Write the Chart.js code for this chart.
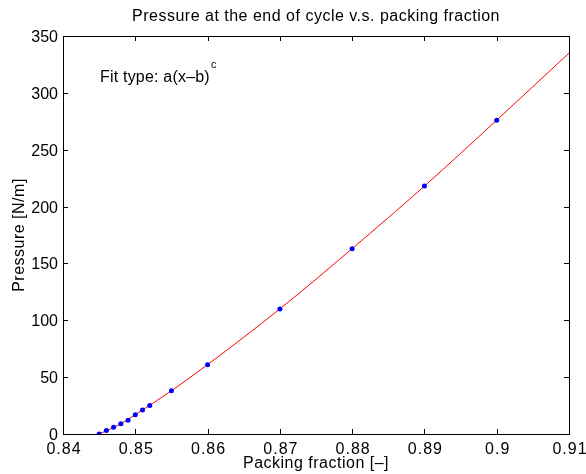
<!DOCTYPE html>
<html>
<head>
<meta charset="utf-8">
<script src="https://cdn.jsdelivr.net/npm/chart.js@4.4.1/dist/chart.umd.min.js"></script>
<style>
  html, body { margin: 0; padding: 0; background: #fff; }
  #wrap { width: 586px; height: 474px; }
</style>
</head>
<body>
<div id="wrap"><canvas id="myChart" width="586" height="474"></canvas></div>
<script>
// measured points (blue dots)
const packing = [0.845, 0.846, 0.847, 0.848, 0.849, 0.850, 0.851, 0.852, 0.855, 0.86, 0.87, 0.88, 0.89, 0.90];
const pressure = [0, 3, 6, 9, 12, 17, 21, 25, 38, 61, 110, 163, 218, 276];

// fitted curve
const fitX = [0.845, 0.848, 0.85, 0.855, 0.86, 0.87, 0.88, 0.89, 0.90, 0.91];
const fitY = [0, 9, 17, 38, 61, 110, 163, 218, 276, 335];

const xTicks = [0.84, 0.85, 0.86, 0.87, 0.88, 0.89, 0.9, 0.91];
const xTickLabels = ['0.84', '0.85', '0.86', '0.87', '0.88', '0.89', '0.9', '0.91'];
const yTicks = [0, 50, 100, 150, 200, 250, 300, 350];
const yTickLabels = ['0', '50', '100', '150', '200', '250', '300', '350'];

const FONT = '"Liberation Sans", Arial, Helvetica, sans-serif';

// box, inward ticks, tick labels and the texts, MATLAB style
const matlabFrame = {
    id: 'matlabFrame',
    afterDraw(chart) {
        const ctx = chart.ctx;
        const a = chart.chartArea;
        const xs = chart.scales.x, ys = chart.scales.y;
        const len = 5;
        ctx.save();
        ctx.strokeStyle = '#000';
        ctx.lineWidth = 1;
        ctx.beginPath();
        xTicks.forEach(function (v) {
            var px = Math.round(xs.getPixelForValue(v)) + 0.5;
            ctx.moveTo(px, a.bottom); ctx.lineTo(px, a.bottom - len);
            ctx.moveTo(px, a.top); ctx.lineTo(px, a.top + len);
        });
        yTicks.forEach(function (v) {
            var py = Math.round(ys.getPixelForValue(v)) + 0.5;
            ctx.moveTo(a.left, py); ctx.lineTo(a.left + len, py);
            ctx.moveTo(a.right, py); ctx.lineTo(a.right - len, py);
        });
        ctx.stroke();
        ctx.strokeRect(a.left + 0.5, a.top + 0.5, a.right - a.left, a.bottom - a.top);

        ctx.fillStyle = '#000';
        ctx.textBaseline = 'alphabetic';

        // tick labels
        ctx.font = '16px ' + FONT;
        ctx.textAlign = 'center';
        ctx.letterSpacing = '1px';
        xTicks.forEach(function (v, i) {
            ctx.fillText(xTickLabels[i], xs.getPixelForValue(v) + 1, 454);
        });
        ctx.letterSpacing = '0px';
        ctx.textAlign = 'right';
        yTicks.forEach(function (v, i) {
            ctx.fillText(yTickLabels[i], a.left - 5, ys.getPixelForValue(v) + 6);
        });

        // title and axis labels
        var cx = (a.left + a.right) / 2;
        ctx.textAlign = 'center';
        ctx.font = '16px ' + FONT;
        ctx.letterSpacing = '0.5px';
        ctx.fillText('Pressure at the end of cycle v.s. packing fraction', cx, 21);
        ctx.fillText('Packing fraction [\u2013]', cx, 468);
        ctx.save();
        ctx.translate(24, (a.top + a.bottom) / 2);
        ctx.rotate(-Math.PI / 2);
        ctx.fillText('Pressure [N/m]', 0, 0);
        ctx.restore();

        // fit annotation
        ctx.textAlign = 'left';
        ctx.letterSpacing = '0.2px';
        var label = 'Fit type: a(x\u2013b)';
        ctx.fillText(label, 100, 82);
        var w = ctx.measureText(label).width;
        ctx.font = '11px ' + FONT;
        ctx.letterSpacing = '0px';
        ctx.fillText('c', 100 + w + 1, 68);
        ctx.restore();
    }
};

const ctx = document.getElementById('myChart').getContext('2d');
const pressureChart = new Chart(ctx, {
    type: 'scatter',
    data: {
        datasets: [{
            label: 'data',
            data: packing.map(function (x, i) { return { x: x, y: pressure[i] }; }),
            backgroundColor: '#0000ff',
            borderColor: '#0000ff',
            pointRadius: 2.5,
            pointBorderWidth: 0,
            showLine: false,
            order: 0
        }, {
            label: 'fit',
            data: fitX.map(function (x, i) { return { x: x, y: fitY[i] }; }),
            borderColor: '#ff0000',
            borderWidth: 1,
            pointRadius: 0,
            showLine: true,
            cubicInterpolationMode: 'monotone',
            order: 1
        }]
    },
    options: {
        responsive: false,
        animation: false,
        layout: { padding: { top: 36, right: 17, left: 0, bottom: 0 } },
        plugins: {
            legend: { display: false },
            tooltip: { enabled: false },
            title: { display: false }
        },
        scales: {
            x: {
                type: 'linear',
                min: 0.84,
                max: 0.91,
                afterBuildTicks: function (scale) {
                    scale.ticks = xTicks.map(function (v) { return { value: v }; });
                },
                afterFit: function (scale) { scale.height = 40; },
                grid: { display: false, drawTicks: false },
                border: { display: false },
                ticks: { display: false }
            },
            y: {
                min: 0,
                max: 350,
                afterBuildTicks: function (scale) {
                    scale.ticks = yTicks.map(function (v) { return { value: v }; });
                },
                afterFit: function (scale) { scale.width = 63; },
                grid: { display: false, drawTicks: false },
                border: { display: false },
                ticks: { display: false }
            }
        }
    },
    plugins: [matlabFrame]
});
</script>
</body>
</html>
